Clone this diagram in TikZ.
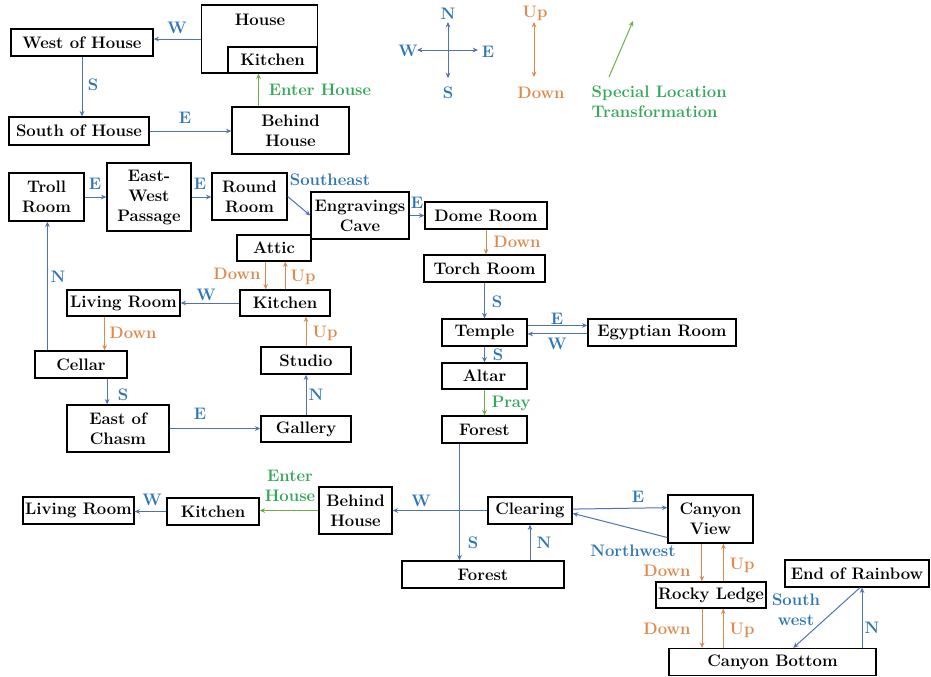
\documentclass[tikz,border=0pt]{standalone}
\usetikzlibrary{arrows.meta,positioning,calc}
\definecolor{dirblue}{RGB}{79,114,180}
\definecolor{dirtext}{RGB}{46,117,182}
\definecolor{updown}{RGB}{222,138,78}
\definecolor{specline}{RGB}{112,173,71}
\definecolor{spectext}{RGB}{52,168,88}
\tikzset{
  room/.style args={#1,#2}{
  draw=black,
  line width=1pt,
  fill=white,
  align=center,
  inner sep=1pt,
  minimum width=#1*0.75pt,
  minimum height=#2*0.75pt,
  },
  go/.style={draw=dirblue,line width=0.75pt,-{Stealth[length=4pt,width=3.5pt]}},
  both/.style={go,{Stealth[length=4pt,width=3.5pt]}-{Stealth[length=4pt,width=3.5pt]}},
  vert/.style={go,draw=updown},
  spec/.style={go,draw=specline},
  golbl/.style={text=dirtext,align=center},
  vertlbl/.style={text=updown},
  speclbl/.style={text=spectext,align=center}
}
\begin{document}
\begin{tikzpicture}[x=0.75pt,y=-0.75pt,font=\fontsize{12.5}{15}\selectfont\bfseries]
  \useasboundingbox (0,0) rectangle (931,676);

  % outside the house
  \node [room={116,68}] (house) at (259.5,39) {};
  \node (housetxt) at (260,20) {House};
  \node [room={89,26}] (kitchen1) at (272.5,60) {Kitchen};
  \node [room={142,27}] (westhouse) at (82,42.5) {West of House};
  \node [room={140,28}] (southhouse) at (79,131) {South of House};
  \node [room={117,47}] (behind1) at (290.5,130.5) {Behind\\House};

  \draw [go] (house.west) -- (house.west -| westhouse.east);
  \draw [go] (westhouse.south) -- (westhouse.south |- southhouse.north);
  \draw [go] (southhouse.east) -- (southhouse.east -| behind1.west);
  \coordinate (eh1) at ($(behind1.north west)!0.23!(behind1.north east)$);
  \draw [spec] (eh1) -- (eh1 |- kitchen1.south);

  \node [golbl] (w1) at (177,28) {W};
  \node [golbl] (s1) at (93,85) {S};
  \node [golbl] (e1) at (185,118) {E};
  \node [speclbl] (enter1) at (320,90) {Enter House};

  % legend
  \coordinate (cn) at (448,22);
  \coordinate (cs) at (448,78);
  \coordinate (cw) at (417,50);
  \coordinate (ce) at (478,50);
  \draw [both] (cn) -- (cs);
  \draw [both] (cw) -- (ce);
  \node [golbl] (ln) at (448,14) {N};
  \node [golbl] (ls) at (448,93) {S};
  \node [golbl] (lw) at (408,51) {W};
  \node [golbl] (le) at (488,52) {E};

  \coordinate (cu) at (534,22);
  \coordinate (cd) at (534,77);
  \draw [both,draw=updown] (cu) -- (cd);
  \node [vertlbl] (lu) at (535,13) {Up};
  \node [vertlbl] (ld) at (541,93) {Down};

  \coordinate (sp0) at (609,77);
  \coordinate (sp1) at (633,21);
  \draw [spec] (sp0) -- (sp1);
  \node [speclbl,align=left,anchor=west] (lsp) at (587,102) {Special Location\\Transformation};

  % underground
  \node [room={75,48}] (troll) at (46.5,197) {Troll\\Room};
  \node [room={84,68}] (ewpass) at (149,197) {East-\\West\\Passage};
  \node [room={75,47}] (round) at (249.5,196.5) {Round\\Room};
  \node [room={74,26}] (attic) at (274,248) {Attic};
  \node [room={98,47}] (engrave) at (360,215.5) {Engravings\\Cave};
  \node [room={122,27}] (dome) at (486,215.5) {Dome Room};
  \node [room={121,27}] (torch) at (484.5,268.5) {Torch Room};
  \node [room={85,27}] (temple) at (484.5,332.5) {Temple};
  \node [room={148,27}] (egypt) at (662,332.5) {Egyptian Room};
  \node [room={85,26}] (altar) at (484.5,376) {Altar};
  \node [room={85,27}] (forest1) at (484.5,429.5) {Forest};
  \node [room={90,26}] (kitchen2) at (285,303) {Kitchen};
  \node [room={113,26}] (living1) at (123.5,303) {Living Room};
  \node [room={92,27}] (cellar) at (81,364.5) {Cellar};
  \node [room={90,27}] (studio) at (306,360.5) {Studio};
  \node [room={102,47}] (eastchasm) at (118,428.5) {East of\\Chasm};
  \node [room={90,26}] (gallery) at (306,429) {Gallery};

  \draw [go] (troll.east) -- (troll.east -| ewpass.west);
  \draw [go] (ewpass.east) -- (ewpass.east -| round.west);
  \draw [go] (round.east) -- (engrave.west);
  \draw [go] (engrave.east) -- (engrave.east -| dome.west);
  \draw [vert] (dome.south) -- (dome.south |- torch.north);
  \draw [go] (torch.south) -- (torch.south |- temple.north);
  \coordinate (te1) at ($(temple.north east)!0.25!(temple.south east)$);
  \coordinate (te2) at ($(temple.north east)!0.55!(temple.south east)$);
  \draw [go] (te1) -- (te1 -| egypt.west);
  \draw [go] (te2 -| egypt.west) -- (te2);
  \draw [go] (temple.south) -- (altar.north);
  \draw [spec] (altar.south) -- (forest1.north);
  \coordinate (fo1) at ($(forest1.south west)!0.21!(forest1.south east)$);

  \coordinate (at1) at ($(attic.south west)!0.39!(attic.south east)$);
  \coordinate (at2) at ($(attic.south west)!0.65!(attic.south east)$);
  \draw [vert] (at1) -- (at1 |- kitchen2.north);
  \draw [vert] (at2 |- kitchen2.north) -- (at2);
  \draw [go] (kitchen2.west) -- (kitchen2.west -| living1.east);
  \coordinate (lv1) at ($(living1.south west)!0.335!(living1.south east)$);
  \draw [vert] (lv1) -- (lv1 |- cellar.north);
  \coordinate (ce1) at ($(cellar.north west)!0.14!(cellar.north east)$);
  \draw [go] (ce1) -- (ce1 |- troll.south);
  \coordinate (ce2) at ($(cellar.south west)!0.78!(cellar.south east)$);
  \draw [go] (ce2) -- (ce2 |- eastchasm.north);
  \draw [go] (eastchasm.east) -- (eastchasm.east -| gallery.west);
  \draw [go] (gallery.north) -- (studio.south);
  \draw [vert] (studio.north) -- (studio.north |- kitchen2.south);

  \node [golbl] (e2) at (95,184) {E};
  \node [golbl] (e3) at (200,184) {E};
  \node [golbl] (se1) at (330,180) {Southeast};
  \node [golbl] (e4) at (417,203) {E};
  \node [vertlbl] (d1) at (517,242) {Down};
  \node [golbl] (s2) at (497,302) {S};
  \node [golbl] (e5) at (557,319) {E};
  \node [golbl] (w2) at (557,344) {W};
  \node [golbl] (s3) at (498,355) {S};
  \node [speclbl] (pray) at (511,403) {Pray};
  \node [vertlbl] (d2) at (237,274) {Down};
  \node [vertlbl] (u1) at (303,277) {Up};
  \node [golbl] (n1) at (58,277) {N};
  \node [golbl] (w3) at (206,295) {W};
  \node [vertlbl] (d3) at (133,333) {Down};
  \node [vertlbl] (u2) at (325,333) {Up};
  \node [golbl] (s4) at (123,395) {S};
  \node [golbl] (e6) at (200,414) {E};
  \node [golbl] (n2) at (316,395) {N};

  % forest and canyon
  \node [room={111,27}] (living2) at (78.5,510.5) {Living Room};
  \node [room={92,27}] (kitchen3) at (213,511.5) {Kitchen};
  \node [room={73,47}] (behind2) at (355.5,510.5) {Behind\\House};
  \node [room={84,27}] (clearing) at (530,510.5) {Clearing};
  \node [room={85,48}] (canyonview) at (710.5,519) {Canyon\\View};
  \node [room={162,27}] (forest2) at (483,574.5) {Forest};
  \node [room={110,26}] (rocky) at (711,595) {Rocky Ledge};
  \node [room={144,27}] (rainbow) at (857,573.5) {End of Rainbow};
  \node [room={207,27}] (canyonbot) at (772.5,662) {Canyon Bottom};

  \draw [go] (fo1) -- (fo1 |- forest2.north);
  \draw [go] (clearing.west) -- (clearing.west -| behind2.east);
  \draw [spec] (behind2.west) -- (behind2.west -| kitchen3.east);
  \draw [go] (kitchen3.west) -- (kitchen3.west -| living2.east);
  \draw [go] (forest2.north -| clearing.south) -- (clearing.south);
  \draw [go] ($(clearing.north east)!0.45!(clearing.south east)$) -- ($(canyonview.north west)!0.27!(canyonview.south west)$);
  \draw [go] ($(canyonview.north west)!0.875!(canyonview.south west)$) -- ($(clearing.north east)!0.6!(clearing.south east)$);
  \coordinate (cv1) at ($(canyonview.south west)!0.4!(canyonview.south east)$);
  \coordinate (cv2) at ($(canyonview.south west)!0.65!(canyonview.south east)$);
  \draw [vert] (cv1) -- (cv1 |- rocky.north);
  \draw [vert] (cv2 |- rocky.north) -- (cv2);
  \coordinate (rl1) at ($(rocky.south west)!0.42!(rocky.south east)$);
  \coordinate (rl2) at ($(rocky.south west)!0.61!(rocky.south east)$);
  \draw [vert] (rl1) -- (rl1 |- canyonbot.north);
  \draw [vert] (rl2 |- canyonbot.north) -- (rl2);
  \draw [go] ($(rainbow.south west)!0.52!(rainbow.south east)$) -- ($(canyonbot.north west)!0.6!(canyonbot.north east)$);
  \coordinate (cb1) at ($(canyonbot.north west)!0.93!(canyonbot.north east)$);
  \draw [go] (cb1) -- (cb1 |- rainbow.south);

  \node [golbl] (w4) at (421,501) {W};
  \node [speclbl] (enter2) at (290,486) {Enter\\House};
  \node [golbl] (w5) at (152,500) {W};
  \node [golbl] (s5) at (473,543) {S};
  \node [golbl] (n3) at (544,543) {N};
  \node [golbl] (e7) at (638,497) {E};
  \node [golbl] (nw1) at (633,551) {Northwest};
  \node [vertlbl] (d4) at (667,571) {Down};
  \node [vertlbl] (u3) at (742,565) {Up};
  \node [vertlbl] (d5) at (667,629) {Down};
  \node [vertlbl] (u4) at (742,630) {Up};
  \node [golbl] (sw1) at (796,610) {South\\west};
  \node [golbl] (n4) at (872,628) {N};
\end{tikzpicture}
\end{document}
